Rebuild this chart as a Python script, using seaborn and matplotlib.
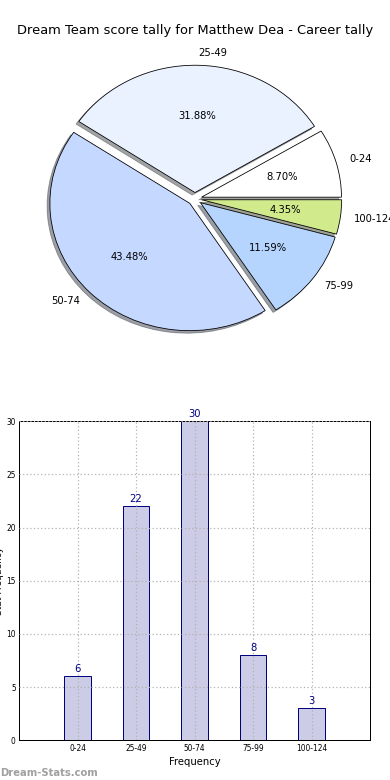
import matplotlib
matplotlib.use("Agg")
import matplotlib.pyplot as plt
import seaborn as sns
import pandas as pd

# score ranges and how often each was hit
categories = ["0-24", "25-49", "50-74", "75-99", "100-124"]
counts = [6, 22, 30, 8, 3]
pie_colors = ["#ffffff", "#eaf1ff", "#c5d8ff", "#b5d5ff", "#d0ea8c"]

title = "Dream Team score tally for Matthew Dea - Career tally"

df = pd.DataFrame({"range": categories, "count": counts})

sns.set_style("white")
plt.rcParams["font.family"] = ["DejaVu Sans"]
plt.rcParams["text.color"] = "black"
plt.rcParams["axes.labelcolor"] = "black"
plt.rcParams["xtick.color"] = "black"
plt.rcParams["ytick.color"] = "black"

DPI = 72
fig = plt.figure(figsize=(390 / DPI, 780 / DPI), dpi=DPI)

# --- pie (top) ---
ax1 = fig.add_axes([0.051, 0.541, 0.897, 0.408])
ax1.pie(counts, labels=categories, colors=pie_colors, autopct="%1.2f%%",
        explode=[0.05] * len(counts), shadow=True, startangle=0,
        wedgeprops={"edgecolor": "black", "linewidth": 0.8},
        textprops={"fontsize": 10, "color": "black"})
ax1.set_aspect("auto")
ax1.set_xlim(-1.25, 1.25)
ax1.set_ylim(-1.25, 1.25)
ax1.set_title(title, fontsize=13, color="black")

# --- bar chart (bottom) ---
ax2 = fig.add_axes([0.049, 0.051, 0.9, 0.409])
sns.barplot(data=df, x="range", y="count", order=categories, ax=ax2,
            color="#ccccE6", saturation=1, width=0.45,
            edgecolor="#000080", linewidth=1)
ax2.bar_label(ax2.containers[0], color="#000080", fontsize=10, padding=2)
ax2.set_xlim(-1, 5)
ax2.set_ylim(0, 30)
ax2.set_yticks(range(0, 31, 5))
ax2.tick_params(axis="both", labelsize=7.5, direction="in", length=3)
ax2.set_xlabel("Frequency", fontsize=10)
ax2.set_ylabel("Stat Frequency", fontsize=9, labelpad=2)
ax2.grid(True, linestyle=(0, (1, 2)), color="#b0b0b0", linewidth=1.2)
ax2.set_axisbelow(False)
for s in ax2.spines.values():
    s.set_visible(True)
    s.set_color("black")
    s.set_linewidth(1)

fig.text(0.0, 0.003, "Dream-Stats.com", fontsize=10, fontweight="bold",
         color="#a0a0a0", ha="left", va="bottom")

fig.savefig("out.png", dpi=DPI)
